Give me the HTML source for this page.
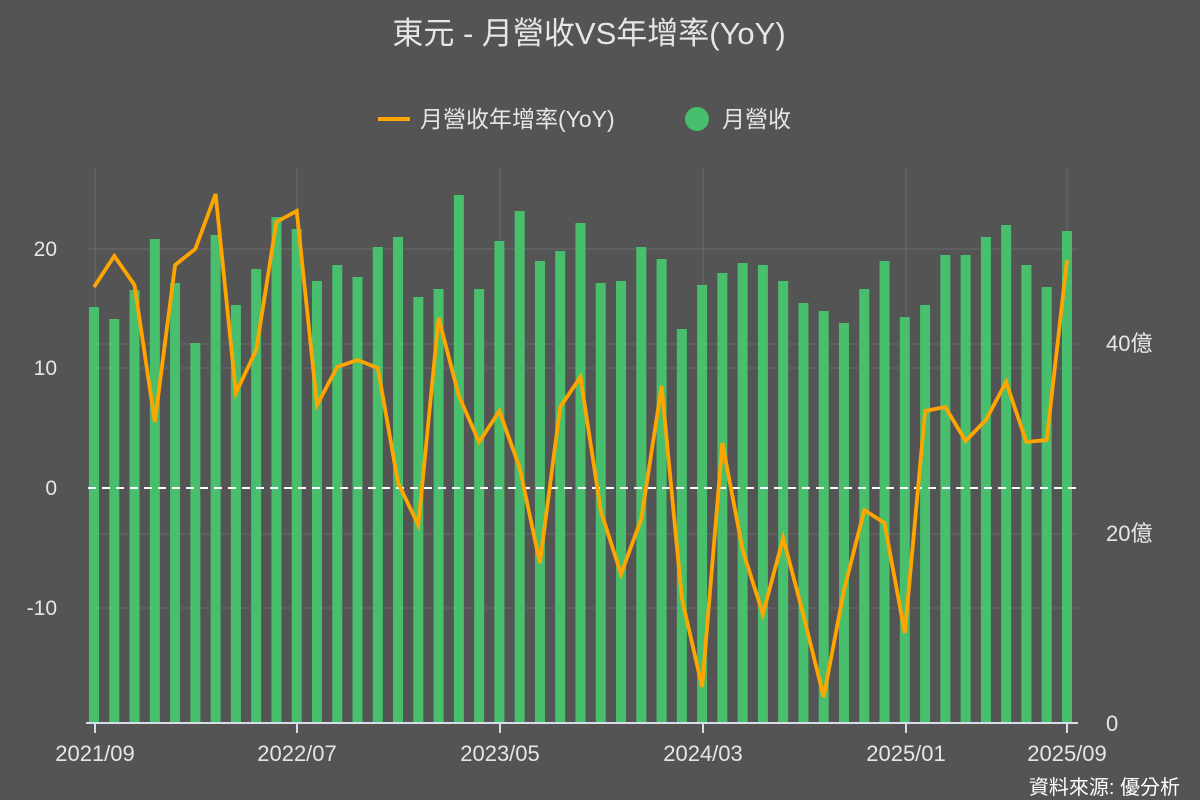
<!DOCTYPE html>
<html><head><meta charset="utf-8"><style>
html,body{margin:0;padding:0;background:#545454;}
svg{display:block;font-family:"Liberation Sans","Noto Sans CJK TC",sans-serif;}
</style></head><body>
<svg id="s" width="1200" height="800" xmlns="http://www.w3.org/2000/svg">
<rect width="1200" height="800" fill="#545454"/>
<text x="589" y="44" text-anchor="middle" font-size="31" fill="#e6e6e6">東元 - 月營收VS年增率(YoY)</text>
<line x1="378" y1="119" x2="410" y2="119" stroke="#ffa500" stroke-width="4"/>
<text x="420" y="127" font-size="23" fill="#e6e6e6">月營收年增率(YoY)</text>
<circle cx="697" cy="119" r="12" fill="#48bf6c"/>
<text x="722" y="127" font-size="23" fill="#e6e6e6">月營收</text>
<g stroke="#6a6a6a" stroke-width="1">
<line x1="88" y1="249" x2="1078" y2="249"/>
<line x1="88" y1="344" x2="1078" y2="344"/>
<line x1="88" y1="368" x2="1078" y2="368"/>
<line x1="88" y1="534" x2="1078" y2="534"/>
<line x1="88" y1="608" x2="1078" y2="608"/>
<line x1="95" y1="168" x2="95" y2="723"/>
<line x1="297" y1="168" x2="297" y2="723"/>
<line x1="500" y1="168" x2="500" y2="723"/>
<line x1="703" y1="168" x2="703" y2="723"/>
<line x1="906" y1="168" x2="906" y2="723"/>
<line x1="1067" y1="168" x2="1067" y2="723"/>
</g>
<g id="bars" fill="#48bf6c"></g>
<line x1="88" y1="488" x2="1078" y2="488" stroke="#ffffff" stroke-width="2" stroke-dasharray="8,6"/>
<polyline id="ln" fill="none" stroke="#ffa500" stroke-width="3.8" stroke-linejoin="miter"/>
<line x1="86" y1="723" x2="1078" y2="723" stroke="#d8dce8" stroke-width="2"/>
<g stroke="#d8dce8" stroke-width="2">
<line x1="95" y1="723" x2="95" y2="733"/><line x1="297" y1="723" x2="297" y2="733"/>
<line x1="500" y1="723" x2="500" y2="733"/><line x1="703" y1="723" x2="703" y2="733"/>
<line x1="906" y1="723" x2="906" y2="733"/><line x1="1067" y1="723" x2="1067" y2="733"/>
</g>
<g font-size="21" fill="#e6e6e6" text-anchor="end">
<text x="57" y="256">20</text><text x="57" y="375">10</text><text x="57" y="495">0</text><text x="57" y="615">-10</text>
</g>
<g font-size="22" fill="#e6e6e6" text-anchor="start">
<text x="1106" y="351">40億</text><text x="1106" y="541">20億</text><text x="1106" y="731">0</text>
</g>
<g font-size="22" fill="#e6e6e6" text-anchor="middle">
<text x="95" y="761">2021/09</text><text x="297" y="761">2022/07</text><text x="500" y="761">2023/05</text>
<text x="703" y="761">2024/03</text><text x="906" y="761">2025/01</text><text x="1067" y="761">2025/09</text>
</g>
<text x="1180" y="794" font-size="20" fill="#ffffff" text-anchor="end">資料來源: 優分析</text>
</svg>
<script>
var bt=[307,319,290,239,283,343,235,305,269,217,229,281,265,277,247,237,297,289,195,289,241,211,261,251,223,283,281,247,259,329,285,273,263,265,281,303,311,323,289,261,317,305,255,255,237,225,265,287,231];
var ly=[287,256,285,422,265,249,194,393,350,222,211,405,367,360,368,483,525,318,396,442,411,468,563,407,377,511,574,519,386,598,687,443,550,614,538,615,697,590,510,523,633,411,407,441,420,382,442,440,260];
var g=document.getElementById('bars'),ns="http://www.w3.org/2000/svg",pts=[];
for(var i=0;i<49;i++){var cx=94+i*20.27;var r=document.createElementNS(ns,'rect');
r.setAttribute('x',cx-5);r.setAttribute('y',bt[i]);r.setAttribute('width',10);r.setAttribute('height',723-bt[i]);g.appendChild(r);
pts.push(cx.toFixed(1)+','+ly[i]);}
document.getElementById('ln').setAttribute('points',pts.join(' '));
</script>
</body></html>
